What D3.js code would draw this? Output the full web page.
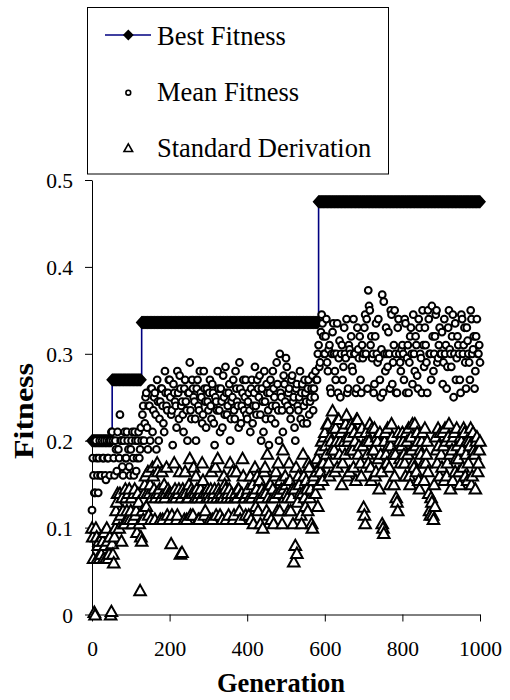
<!DOCTYPE html>
<html><head><meta charset="utf-8">
<script src="https://cdn.jsdelivr.net/npm/d3@7"></script>
<style>body{margin:0;background:#fff}svg{display:block}</style>
</head><body>
<script>
// Generation index of each plotted sample: set A (0,4,8,...) and set B (2,6,10,...)
const generationsA = d3.range(0, 1001, 4);
const generationsB = d3.range(2, 1000, 4);
// Best fitness is a step function: generation where each level starts, and its value
const bestStepGen = [0, 52, 128, 584];
const bestStepVal = [0.2, 0.27, 0.336, 0.475];
const meanFitnessA = [
0.12,0.16,0.14,0.18,0.14,0.2,0.16,0.18,0.2,0.155,0.18,0.2,0.2,0.21,0.18,0.2,0.165,0.19,0.23,0.2,0.16,0.21,0.18,0.2,0.17,
0.19,0.21,0.16,0.2,0.18,0.21,0.19,0.2,0.24,0.22,0.255,0.19,0.24,0.26,0.21,0.25,0.23,0.27,0.2,0.245,0.26,0.22,0.28,0.24,0.255,
0.27,0.23,0.195,0.255,0.24,0.28,0.225,0.26,0.245,0.21,0.27,0.235,0.255,0.29,0.225,0.26,0.245,0.2,0.27,0.235,0.255,0.22,0.28,0.245,0.26,
0.235,0.27,0.225,0.255,0.195,0.245,0.28,0.235,0.26,0.215,0.25,0.285,0.23,0.255,0.2,0.245,0.27,0.225,0.26,0.24,0.29,0.22,0.255,0.235,0.27,
0.225,0.255,0.21,0.27,0.24,0.285,0.23,0.26,0.275,0.2,0.245,0.28,0.225,0.255,0.195,0.27,0.24,0.26,0.22,0.29,0.235,0.3,0.25,0.21,0.265,
0.295,0.24,0.26,0.225,0.275,0.25,0.2,0.265,0.235,0.28,0.255,0.22,0.27,0.245,0.26,0.23,0.25,0.275,0.26,0.28,0.27,0.31,0.29,0.345,0.32,
0.3,0.34,0.28,0.31,0.255,0.325,0.3,0.27,0.335,0.295,0.25,0.31,0.285,0.3,0.34,0.26,0.305,0.32,0.28,0.3,0.255,0.33,0.295,0.27,0.31,
0.3,0.345,0.34,0.373,0.35,0.32,0.3,0.265,0.335,0.29,0.295,0.25,0.368,0.36,0.28,0.3,0.325,0.26,0.345,0.29,0.35,0.255,0.33,0.3,0.28,
0.31,0.27,0.335,0.295,0.255,0.32,0.3,0.345,0.28,0.31,0.26,0.33,0.295,0.35,0.285,0.31,0.255,0.34,0.3,0.355,0.28,0.32,0.35,0.295,0.33,
0.3,0.265,0.34,0.31,0.285,0.35,0.3,0.32,0.25,0.335,0.295,0.31,0.27,0.345,0.3,0.33,0.26,0.315,0.29,0.35,0.3,0.32,0.28,0.34,0.3,0.29
];
const meanFitnessB = [
0.18,0.14,0.2,0.16,0.18,0.16,0.2,0.18,0.16,0.2,0.18,0.16,0.21,0.2,0.16,0.19,0.21,0.18,0.2,0.17,0.2,0.18,0.21,0.19,0.16,
0.2,0.18,0.21,0.165,0.2,0.18,0.215,0.23,0.2,0.25,0.215,0.24,0.2,0.26,0.235,0.255,0.19,0.245,0.225,0.26,0.24,0.21,0.255,0.235,0.27,
0.25,0.235,0.265,0.245,0.215,0.255,0.275,0.24,0.23,0.26,0.245,0.2,0.255,0.235,0.27,0.25,0.225,0.26,0.24,0.28,0.25,0.23,0.26,0.215,0.245,
0.255,0.24,0.265,0.22,0.25,0.235,0.26,0.21,0.245,0.275,0.23,0.255,0.24,0.265,0.225,0.25,0.235,0.28,0.245,0.215,0.26,0.24,0.27,0.25,0.23,
0.245,0.235,0.26,0.22,0.255,0.24,0.27,0.25,0.23,0.26,0.21,0.245,0.265,0.235,0.255,0.225,0.28,0.25,0.24,0.265,0.2,0.255,0.235,0.275,0.245,
0.285,0.255,0.235,0.27,0.245,0.215,0.26,0.24,0.25,0.225,0.265,0.24,0.255,0.22,0.27,0.245,0.26,0.235,0.25,0.27,0.3,0.285,0.325,0.335,0.3,
0.32,0.29,0.305,0.26,0.3,0.335,0.28,0.3,0.255,0.315,0.3,0.27,0.33,0.295,0.255,0.31,0.3,0.285,0.34,0.3,0.26,0.305,0.32,0.255,0.295,
0.33,0.3,0.26,0.355,0.31,0.295,0.255,0.32,0.3,0.34,0.27,0.305,0.255,0.3,0.33,0.285,0.3,0.35,0.265,0.31,0.3,0.255,0.34,0.29,0.305,
0.3,0.34,0.255,0.31,0.29,0.33,0.265,0.3,0.32,0.275,0.34,0.3,0.255,0.31,0.33,0.29,0.35,0.3,0.27,0.32,0.3,0.345,0.29,0.31,0.3,
0.325,0.29,0.3,0.26,0.33,0.305,0.285,0.345,0.3,0.27,0.32,0.3,0.255,0.34,0.31,0.29,0.33,0.3,0.27,0.34,0.305,0.26,0.32,0.3,0.31
];
const stdDeviationA = [
0.1,0.065,0.0,0.09,0.08,0.065,0.07,0.085,0.095,0.065,0.085,0.07,0.0,0.082,0.06,0.1,0.13,0.11,0.14,0.085,0.12,0.105,0.135,0.11,0.145,
0.12,0.105,0.14,0.115,0.095,0.13,0.028,0.085,0.11,0.15,0.125,0.165,0.14,0.11,0.17,0.145,0.135,0.175,0.14,0.11,0.165,0.14,0.135,0.17,0.145,
0.11,0.082,0.14,0.175,0.135,0.115,0.145,0.07,0.072,0.14,0.165,0.11,0.135,0.18,0.145,0.115,0.14,0.16,0.135,0.11,0.145,0.175,0.14,0.12,0.135,
0.14,0.11,0.165,0.135,0.145,0.115,0.18,0.14,0.135,0.11,0.16,0.145,0.135,0.115,0.175,0.14,0.11,0.135,0.165,0.145,0.12,0.14,0.18,0.135,0.115,
0.14,0.115,0.16,0.135,0.105,0.17,0.145,0.12,0.155,0.135,0.1,0.165,0.14,0.185,0.115,0.15,0.135,0.105,0.16,0.14,0.175,0.12,0.145,0.19,0.135,
0.15,0.135,0.175,0.12,0.145,0.061,0.08,0.071,0.16,0.14,0.105,0.185,0.135,0.155,0.12,0.17,0.145,0.1,0.16,0.14,0.18,0.15,0.165,0.2,0.175,
0.21,0.185,0.22,0.16,0.2,0.235,0.19,0.215,0.17,0.225,0.2,0.15,0.215,0.185,0.23,0.2,0.165,0.22,0.19,0.21,0.155,0.225,0.195,0.175,0.215,
0.124,0.105,0.2,0.175,0.22,0.155,0.19,0.215,0.165,0.2,0.145,0.185,0.105,0.094,0.21,0.175,0.195,0.15,0.22,0.185,0.16,0.135,0.12,0.2,0.175,
0.21,0.185,0.16,0.2,0.215,0.15,0.19,0.175,0.22,0.165,0.2,0.145,0.185,0.21,0.155,0.175,0.2,0.14,0.115,0.13,0.11,0.125,0.19,0.215,0.16,
0.185,0.21,0.155,0.2,0.175,0.22,0.145,0.19,0.205,0.165,0.215,0.18,0.15,0.2,0.17,0.21,0.185,0.155,0.2,0.215,0.16,0.19,0.145,0.205,0.175,0.2
];
const stdDeviationB = [
0.09,0.003,0.1,0.065,0.085,0.07,0.09,0.065,0.08,0.1,0.065,0.09,0.004,0.07,0.09,0.12,0.14,0.1,0.115,0.135,0.105,0.145,0.12,0.14,0.11,
0.135,0.11,0.145,0.12,0.14,0.105,0.09,0.12,0.14,0.16,0.14,0.115,0.15,0.135,0.16,0.11,0.14,0.165,0.145,0.135,0.11,0.15,0.14,0.115,0.14,
0.14,0.115,0.135,0.145,0.11,0.14,0.165,0.135,0.145,0.11,0.14,0.135,0.15,0.115,0.14,0.17,0.135,0.145,0.11,0.14,0.135,0.155,0.115,0.14,0.145,
0.135,0.145,0.11,0.14,0.17,0.135,0.145,0.115,0.14,0.135,0.15,0.11,0.14,0.145,0.135,0.165,0.115,0.14,0.135,0.145,0.11,0.14,0.16,0.135,0.14,
0.145,0.135,0.11,0.15,0.14,0.125,0.16,0.135,0.105,0.145,0.14,0.17,0.12,0.135,0.15,0.11,0.145,0.135,0.165,0.12,0.14,0.155,0.105,0.145,0.16,
0.14,0.12,0.155,0.135,0.105,0.145,0.17,0.13,0.15,0.115,0.14,0.16,0.125,0.145,0.175,0.135,0.105,0.155,0.14,0.165,0.125,0.17,0.19,0.155,0.205,
0.195,0.22,0.175,0.205,0.19,0.215,0.165,0.2,0.225,0.185,0.21,0.175,0.2,0.22,0.16,0.205,0.19,0.215,0.17,0.2,0.225,0.185,0.21,0.16,0.195,
0.115,0.21,0.185,0.2,0.17,0.215,0.19,0.16,0.205,0.18,0.21,0.165,0.1,0.2,0.185,0.215,0.17,0.195,0.205,0.15,0.185,0.13,0.21,0.18,0.195,
0.2,0.175,0.21,0.185,0.16,0.205,0.22,0.17,0.195,0.21,0.155,0.19,0.2,0.175,0.215,0.185,0.165,0.12,0.135,0.115,0.15,0.205,0.175,0.195,0.21,
0.17,0.195,0.215,0.16,0.205,0.185,0.2,0.155,0.21,0.18,0.195,0.165,0.205,0.19,0.215,0.16,0.2,0.175,0.195,0.15,0.21,0.185,0.2,0.165,0.19
];
const xTicks = [0, 200, 400, 600, 800, 1000];
const yTicks = [0, 0.1, 0.2, 0.3, 0.4, 0.5];
const legendLabels = ["Best Fitness", "Mean Fitness", "Standard Derivation"];
const xTitle = "Generation", yTitle = "Fitness";

const W = 510, H = 700;
const FONT = "'Liberation Serif','Times New Roman',Times,serif";
const svg = d3.select("body").append("svg").attr("width", W).attr("height", H)
  .style("font-family", FONT);

const x = d3.scaleLinear().domain([0, 1000]).range([92, 480]);
const y = d3.scaleLinear().domain([0, 0.5]).range([614.5, 180]);

function bestAt(g) {
  let v = bestStepVal[0];
  for (let k = 0; k < bestStepGen.length; k++) if (g >= bestStepGen[k]) v = bestStepVal[k];
  return v;
}
const allGens = generationsA.concat(generationsB).sort((a, b) => a - b);
const bestData = allGens.map(g => ({g, v: bestAt(g)}));
function merge(ga, va, gb, vb) {
  const out = [];
  ga.forEach((g, i) => { if (va[i] != null) out.push({g, v: va[i]}); });
  gb.forEach((g, i) => { if (vb[i] != null) out.push({g, v: vb[i]}); });
  return out.sort((a, b) => a.g - b.g);
}
const meanData = merge(generationsA, meanFitnessA, generationsB, meanFitnessB);
const stdData = merge(generationsA, stdDeviationA, generationsB, stdDeviationB);

// Axes
const yAxis = d3.axisLeft(y).tickValues(yTicks).tickSize(7).tickSizeOuter(0)
  .tickFormat(d => d === 0 ? "0" : d3.format(".1f")(d));
const gy = svg.append("g").attr("transform", "translate(92,0)").call(yAxis);
gy.attr("font-family", null);
gy.selectAll("text").attr("x", -19).attr("dy", "0.36em")
  .style("font-family", FONT).style("font-size", "21.5px").attr("fill", "#000");
const xAxis = d3.axisBottom(x).tickValues(xTicks).tickSize(7).tickSizeOuter(0).tickFormat(d3.format("d"));
const gx = svg.append("g").attr("transform", "translate(0,614.5)").call(xAxis);
gx.attr("font-family", null);
gx.selectAll("text").attr("y", 41.5).attr("dy", 0)
  .style("font-family", FONT).style("font-size", "21.5px").attr("fill", "#000");
svg.selectAll(".domain, .tick line").attr("stroke", "#000").attr("stroke-width", 1);

// Axis titles
svg.append("text").attr("x", 281).attr("y", 691.5).attr("text-anchor", "middle")
  .style("font-size", "26.5px").style("font-weight", "bold").text(xTitle);
svg.append("text").attr("transform", "translate(33,411) rotate(-90)").attr("text-anchor", "middle")
  .attr("textLength", 96).attr("lengthAdjust", "spacingAndGlyphs")
  .style("font-size", "26.5px").style("font-weight", "bold").text(yTitle);

// Best fitness line + diamonds
const line = d3.line().x(d => x(d.g)).y(d => y(d.v)).curve(d3.curveStepAfter);
svg.append("path").datum(bestData).attr("d", line)
  .attr("fill", "none").attr("stroke", "#000080").attr("stroke-width", 1.6);
const diamond = "M0,-6.7L6,0L0,6.7L-6,0Z";
svg.append("g").selectAll("path").data(bestData).join("path")
  .attr("d", diamond).attr("transform", d => `translate(${x(d.g)},${y(d.v)})`).attr("fill", "#000");

// Mean circles
svg.append("g").selectAll("circle").data(meanData).join("circle")
  .attr("cx", d => x(d.g)).attr("cy", d => y(d.v)).attr("r", 3.4)
  .attr("fill", "#fff").attr("stroke", "#000").attr("stroke-width", 2);

// Std triangles
const tri = "M0,-5.3L5.8,5.1L-5.8,5.1Z";
svg.append("g").selectAll("path").data(stdData).join("path")
  .attr("d", tri).attr("transform", d => `translate(${x(d.g)},${y(d.v)})`)
  .attr("fill", "#fff").attr("stroke", "#000").attr("stroke-width", 2).attr("stroke-linejoin", "miter");

// Legend
const lg = svg.append("g");
lg.append("rect").attr("x", 87.5).attr("y", 7.5).attr("width", 301).attr("height", 166.5)
  .attr("fill", "#fff").attr("stroke", "#000").attr("stroke-width", 1);
const rowsY = [35, 92.7, 147.7];
lg.append("line").attr("x1", 105).attr("x2", 151).attr("y1", rowsY[0]).attr("y2", rowsY[0])
  .attr("stroke", "#000080").attr("stroke-width", 1.6);
lg.append("path").attr("d", "M0,-5.6L5.4,0L0,5.6L-5.4,0Z").attr("transform", `translate(128.3,${rowsY[0]})`).attr("fill", "#000");
lg.append("circle").attr("cx", 128.3).attr("cy", rowsY[1]).attr("r", 2.4)
  .attr("fill", "#fff").attr("stroke", "#000").attr("stroke-width", 1.6);
lg.append("path").attr("d", "M0,-3.8L4.3,3.8L-4.3,3.8Z").attr("transform", `translate(128.3,${rowsY[2]})`)
  .attr("fill", "#fff").attr("stroke", "#000").attr("stroke-width", 1.6);
const baseY = [45, 100.7, 156.7];
legendLabels.forEach((t, i) => {
  lg.append("text").attr("x", 157).attr("y", baseY[i]).style("font-size", "26.5px").attr("fill", "#000").text(t);
});
</script>
</body></html>
